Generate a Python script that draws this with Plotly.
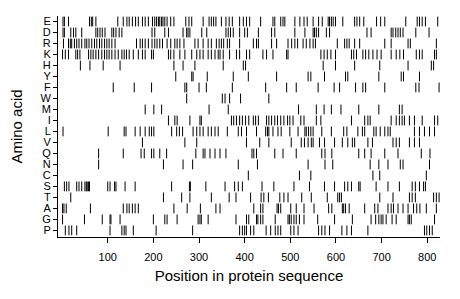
import plotly.graph_objects as go

# Amino acid rows, top to bottom
amino_acids = ["E", "D", "R", "K", "H", "Y", "F", "W", "M", "I",
               "L", "V", "Q", "N", "C", "S", "T", "A", "G", "P"]

# Positions (residue index) of each amino acid in the protein sequence
E = [2, 5, 14, 60, 64, 67, 74, 122, 134, 142, 147, 154, 161, 167, 176, 182, 189, 198,
     203, 207, 211, 214, 218, 221, 225, 230, 238, 245, 271, 278, 284, 309, 322, 327, 332,
     337, 349, 359, 366, 373, 389, 397, 404, 411, 435, 462, 466, 479, 484, 488, 510, 521,
     530, 537, 550, 562, 570, 583, 586, 590, 594, 599, 615, 641, 646, 652, 661, 689, 698,
     707, 753, 778, 783, 789, 796, 823]
D = [2, 5, 19, 25, 30, 43, 74, 78, 83, 88, 94, 109, 113, 118, 125, 131, 197, 203, 225,
     233, 265, 273, 276, 280, 306, 317, 359, 364, 369, 375, 389, 400, 406, 430, 459, 466,
     510, 532, 550, 553, 557, 562, 579, 586, 668, 677, 721, 725, 731, 736, 741, 747, 775, 804]
R = [3, 14, 18, 21, 27, 32, 37, 43, 50, 54, 59, 65, 71, 76, 82, 87, 93, 98, 103, 109, 116,
     163, 171, 176, 182, 189, 197, 203, 208, 214, 220, 230, 238, 247, 252, 258, 267, 291,
     298, 309, 320, 327, 338, 344, 349, 354, 362, 367, 389, 419, 426, 430, 459, 470, 495,
     503, 510, 516, 528, 535, 543, 550, 555, 603, 619, 624, 629, 641, 652, 707, 721, 758,
     763, 820]
K = [1, 7, 14, 30, 34, 39, 58, 63, 68, 74, 80, 87, 93, 98, 103, 109, 116, 123, 131, 136,
     141, 147, 156, 167, 176, 182, 196, 200, 233, 238, 245, 258, 269, 284, 295, 302, 309,
     320, 327, 335, 342, 346, 353, 367, 382, 389, 404, 411, 440, 448, 462, 492, 495, 567,
     574, 581, 589, 599, 634, 639, 645, 659, 665, 672, 681, 690, 699, 721, 732, 740, 748,
     776, 783, 789, 816, 820]
H = [40, 61, 90, 127, 245, 265, 291, 353, 397, 402, 572, 599, 641, 696, 758, 809, 814]
Y = [249, 284, 287, 318, 375, 408, 470, 539, 545, 575, 621, 626, 694, 743, 748, 783]
F = [112, 158, 196, 269, 273, 300, 316, 373, 446, 492, 513, 561, 596, 608, 643, 659, 665,
     707, 775, 782, 826]
W = [273, 351, 357, 367, 391, 453]
M = [182, 201, 218, 322, 364, 518, 557, 574, 590, 611, 650, 694, 739, 745]
I = [233, 247, 252, 280, 302, 305, 371, 376, 382, 389, 395, 402, 409, 419, 424, 430, 448,
     453, 459, 466, 472, 479, 486, 494, 499, 506, 523, 530, 557, 567, 634, 663, 670, 675,
     721, 732, 739, 745, 750, 761, 772, 789, 816, 823]
L = [2, 101, 136, 140, 160, 171, 182, 191, 196, 201, 240, 251, 257, 264, 287, 295, 302,
     309, 320, 327, 335, 342, 362, 386, 393, 404, 426, 446, 450, 453, 462, 473, 480, 499,
     517, 532, 535, 540, 545, 550, 569, 590, 617, 624, 648, 658, 663, 683, 688, 697, 707,
     714, 719, 772, 783, 794, 805, 816]
V = [176, 269, 295, 404, 433, 453, 502, 524, 531, 539, 546, 550, 564, 575, 597, 614, 626,
     636, 641, 670, 680, 725, 732, 739, 761, 772, 783]
Q = [80, 134, 173, 180, 196, 201, 214, 229, 293, 309, 313, 324, 335, 346, 359, 416, 420,
     426, 466, 484, 513, 569, 576, 591, 650, 663, 677, 707, 736, 787, 806]
N = [80, 222, 265, 286, 386, 428, 539, 576, 593, 675, 694, 714, 741, 747, 805]
C = [408, 520, 545, 681, 696, 798]
S = [5, 10, 15, 32, 37, 43, 50, 53, 55, 58, 60, 100, 105, 115, 118, 138, 160, 240, 279,
     281, 315, 357, 378, 386, 395, 438, 464, 508, 542, 575, 597, 619, 626, 634, 650, 653,
     688, 714, 739, 767, 774, 783, 792, 796]
T = [19, 222, 262, 280, 327, 366, 381, 413, 436, 442, 452, 477, 486, 495, 525, 546, 581,
     604, 608, 612, 696, 725, 761, 767, 774, 814, 820, 826]
A = [1, 4, 9, 62, 134, 142, 147, 154, 160, 167, 245, 274, 303, 337, 346, 420, 435, 440,
     471, 474, 479, 501, 513, 530, 552, 584, 591, 614, 617, 621, 629, 663, 685, 692, 714,
     721, 726, 736, 747, 758, 770, 777, 784, 798, 820]
G = [1, 49, 88, 105, 107, 127, 200, 225, 230, 252, 298, 302, 305, 320, 381, 404, 409, 426,
     429, 435, 440, 467, 495, 498, 502, 508, 513, 520, 530, 560, 597, 636, 677, 687, 694,
     699, 703, 710, 723, 732, 758, 761, 765, 816]
P = [7, 15, 21, 32, 105, 131, 136, 140, 156, 206, 286, 389, 395, 400, 404, 413, 420, 447,
     457, 467, 473, 479, 501, 508, 517, 562, 569, 576, 586, 613, 624, 634, 670, 794, 799,
     805, 811]

rows = [E, D, R, K, H, Y, F, W, M, I, L, V, Q, N, C, S, T, A, G, P]
x_ticks = [100, 200, 300, 400, 500, 600, 700, 800]

xs, ys = [], []
for aa, positions in zip(amino_acids, rows):
    xs += positions
    ys += [aa] * len(positions)

fig = go.Figure(go.Scatter(
    x=xs, y=ys, mode="markers",
    marker=dict(symbol="line-ns", size=7, color="black",
                line=dict(color="black", width=1)),
    hoverinfo="skip", showlegend=False,
))

font_family = "Liberation Sans, Arial, sans-serif"
# the page body adds an 8px offset, so the figure is sized/margined to compensate
fig.update_layout(
    width=452, height=291,
    margin=dict(l=50, r=20, t=8, b=62),
    paper_bgcolor="white", plot_bgcolor="white",
    font=dict(family=font_family, color="black"),
    xaxis=dict(
        range=[-9, 828], tickmode="array", tickvals=x_ticks,
        ticks="outside", ticklen=5,
        tickcolor="black", showline=True, linecolor="black", linewidth=1,
        showgrid=False, zeroline=False, tickfont=dict(size=11),
        ticklabelstandoff=5, automargin=False,
        title=dict(text="Position in protein sequence", font=dict(size=15), standoff=8),
    ),
    yaxis=dict(
        type="category", categoryorder="array",
        categoryarray=list(reversed(amino_acids)),
        tickmode="array", tickvals=amino_acids, ticktext=amino_acids,
        range=[-0.6, 19.5], ticks="outside", ticklen=4, tickcolor="black",
        showline=True, linecolor="black", linewidth=1, showgrid=False,
        zeroline=False, tickfont=dict(size=11), automargin=False,
        title=dict(text="Amino acid", font=dict(size=15), standoff=29),
    ),
)

fig.write_html("out.html")
